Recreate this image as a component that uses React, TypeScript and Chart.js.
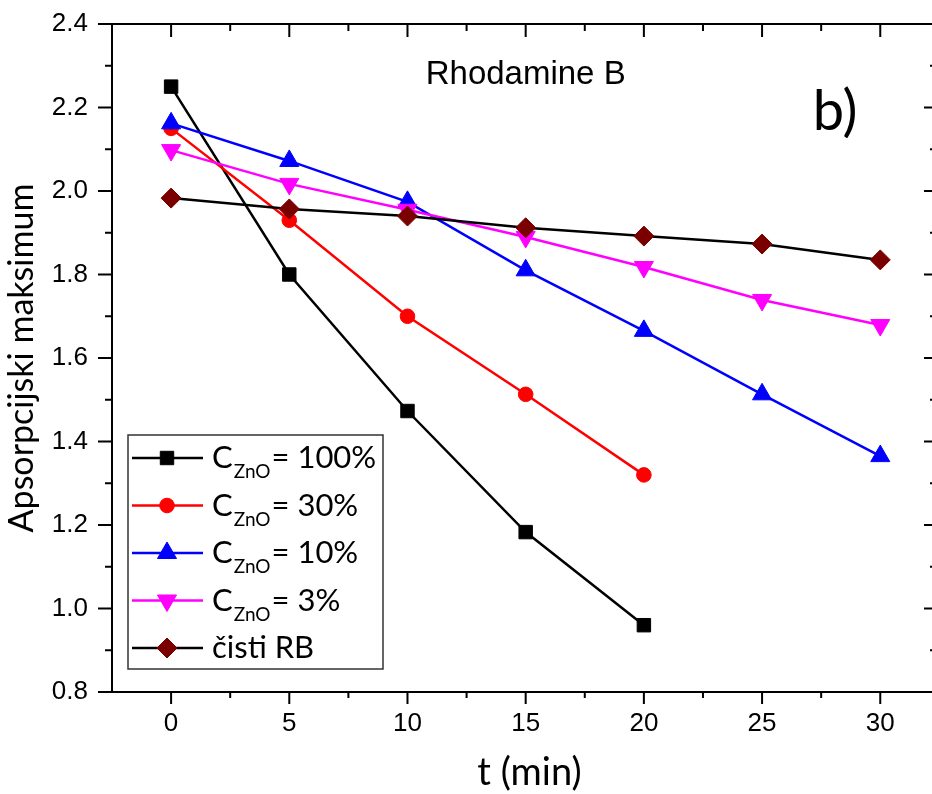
import React, { useEffect, useRef } from 'react';
import { Chart, registerables } from 'chart.js';
import { drawPoint } from 'chart.js/helpers';

Chart.register(...registerables);

// ---- data ----
const timeMin = [0, 5, 10, 15, 20, 25, 30];
const c100 = [2.25, 1.8, 1.473, 1.183, 0.96];
const c30 = [2.15, 1.93, 1.7, 1.513, 1.32];
const c10 = [2.162, 2.072, 1.974, 1.81, 1.665, 1.513, 1.365];
const c3 = [2.098, 2.017, 1.955, 1.89, 1.818, 1.739, 1.679];
const pureRB = [1.983, 1.957, 1.94, 1.912, 1.892, 1.873, 1.835];

const xTickValues = [0, 5, 10, 15, 20, 25, 30];
const yTickValues = [0.8, 1.0, 1.2, 1.4, 1.6, 1.8, 2.0, 2.2, 2.4];

const legendMain = ['C', 'C', 'C', 'C', 'čisti RB'];
const legendSub = ['ZnO', 'ZnO', 'ZnO', 'ZnO', ''];
const legendTail = ['= 100%', '= 30%', '= 10%', '= 3%', ''];

const titleText = 'Rhodamine B';
const panelText = 'b)';
const xTitle = 't (min)';
const yTitle = 'Apsorpcijski maksimum';

// annotation anchors in data units
const titleAt = { x: 15, y: 2.257 };
const panelAt = { x: 27.14, y: 2.1465 };

// ---- styles ----
const seriesValues = [c100, c30, c10, c3, pureRB];
const seriesStyle = [
  { line: '#000000', marker: '#000000', style: 'rect', radius: 9.5, rotation: 0 },
  { line: '#ff0000', marker: '#ff0000', style: 'circle', radius: 7.3, rotation: 0 },
  { line: '#0000ff', marker: '#0000ff', style: 'triangle', radius: 11, rotation: 0 },
  { line: '#ff00ff', marker: '#ff00ff', style: 'triangle', radius: 11, rotation: 180 },
  { line: '#000000', marker: '#7a0000', style: 'rectRot', radius: 10, rotation: 0 },
];

const CALIBRI = "Lato, 'Open Sans', sans-serif";
const ARIAL = "'Liberation Sans', Arial, sans-serif";

const decorPlugin = {
  id: 'decor',
  afterDatasetsDraw(chart: any) {
    const { ctx, chartArea: a, scales } = chart;
    const x = scales.x;
    const y = scales.y;
    ctx.save();
    ctx.strokeStyle = '#000';
    ctx.lineWidth = 2;
    ctx.lineCap = 'butt';
    ctx.strokeRect(a.left, a.top, a.right - a.left, a.bottom - a.top);
    ctx.beginPath();
    xTickValues.forEach((v, i) => {
      const p = x.getPixelForValue(v);
      ctx.moveTo(p, a.bottom);
      ctx.lineTo(p, a.bottom + 12);
      ctx.moveTo(p, a.top);
      ctx.lineTo(p, a.top + 13);
      if (i < xTickValues.length - 1) {
        const m = x.getPixelForValue((v + xTickValues[i + 1]) / 2);
        ctx.moveTo(m, a.bottom);
        ctx.lineTo(m, a.bottom + 6);
        ctx.moveTo(m, a.top);
        ctx.lineTo(m, a.top + 7);
      }
    });
    yTickValues.forEach((v, i) => {
      const p = y.getPixelForValue(v);
      ctx.moveTo(a.left - 14, p);
      ctx.lineTo(a.left, p);
      ctx.moveTo(a.right, p);
      ctx.lineTo(a.right - 13, p);
      if (i < yTickValues.length - 1) {
        const m = y.getPixelForValue((v + yTickValues[i + 1]) / 2);
        ctx.moveTo(a.left - 7, m);
        ctx.lineTo(a.left, m);
        ctx.moveTo(a.right, m);
        ctx.lineTo(a.right - 7, m);
      }
    });
    ctx.stroke();

    // annotations
    ctx.fillStyle = '#000';
    ctx.textBaseline = 'alphabetic';
    ctx.textAlign = 'center';
    ctx.font = `33px ${ARIAL}`;
    ctx.fillText(titleText, x.getPixelForValue(titleAt.x), y.getPixelForValue(titleAt.y));
    ctx.textAlign = 'left';
    ctx.font = `56px ${CALIBRI}`;
    ctx.fillText(panelText, x.getPixelForValue(panelAt.x), y.getPixelForValue(panelAt.y));

    // axis titles
    ctx.textAlign = 'center';
    ctx.font = `38px ${CALIBRI}`;
    ctx.fillText(xTitle, (a.left + a.right) / 2 + 5, a.bottom + 93);
    ctx.save();
    ctx.translate(33, (a.top + a.bottom) / 2);
    ctx.rotate(-Math.PI / 2);
    ctx.font = `34px ${CALIBRI}`;
    ctx.fillText(yTitle, 0, 0);
    ctx.restore();

    // legend
    const bx = a.left + 16;
    const by = a.bottom - 257;
    const bw = 255;
    const bh = 234;
    ctx.fillStyle = '#fff';
    ctx.fillRect(bx, by, bw, bh);
    ctx.strokeStyle = '#333';
    ctx.lineWidth = 1.5;
    ctx.strokeRect(bx, by, bw, bh);
    seriesStyle.forEach((s, i) => {
      const cy = by + 23 + i * 47.5;
      ctx.strokeStyle = s.line;
      ctx.lineWidth = 2.5;
      ctx.beginPath();
      ctx.moveTo(bx + 4, cy);
      ctx.lineTo(bx + 75, cy);
      ctx.stroke();
      ctx.fillStyle = s.marker;
      ctx.strokeStyle = s.marker;
      ctx.lineWidth = 1;
      drawPoint(ctx, { pointStyle: s.style, radius: s.radius, rotation: s.rotation, borderWidth: 1 }, bx + 39, cy);
      ctx.fillStyle = '#000';
      ctx.textAlign = 'left';
      ctx.textBaseline = 'alphabetic';
      let tx = bx + 84;
      ctx.font = `31px ${CALIBRI}`;
      ctx.fillText(legendMain[i], tx, cy + 10);
      tx += ctx.measureText(legendMain[i]).width;
      if (legendSub[i]) {
        ctx.font = `19px ${CALIBRI}`;
        ctx.fillText(legendSub[i], tx + 1, cy + 20);
        tx += ctx.measureText(legendSub[i]).width + 2;
        ctx.font = `31px ${CALIBRI}`;
        ctx.fillText(legendTail[i], tx, cy + 10);
      }
    });
    ctx.restore();
  },
};

export default function App() {
  const ref = useRef<HTMLCanvasElement | null>(null);
  useEffect(() => {
    document.body.style.margin = '0';
    document.body.style.overflow = 'hidden';
    const canvas = ref.current!;
    const datasets = seriesValues.map((vals, i) => {
      const s = seriesStyle[i];
      return {
        label: legendMain[i] + legendSub[i] + legendTail[i],
        data: vals.map((v, j) => ({ x: timeMin[j], y: v })),
        borderColor: s.line,
        borderWidth: 2.5,
        backgroundColor: s.marker,
        pointBackgroundColor: s.marker,
        pointBorderColor: s.marker,
        pointBorderWidth: 1,
        pointStyle: s.style,
        pointRadius: s.radius,
        pointRotation: s.rotation,
        pointHoverRadius: s.radius,
        tension: 0,
        fill: false,
        clip: false,
        order: seriesValues.length - i,
      };
    });
    const chart = new Chart(canvas, {
      type: 'line',
      data: { datasets },
      options: {
        animation: false,
        responsive: false,
        maintainAspectRatio: false,
        devicePixelRatio: 1,
        layout: { autoPadding: false, padding: { left: 0, top: 24, right: 3, bottom: 0 } },
        plugins: { legend: { display: false }, tooltip: { enabled: false }, title: { display: false } },
        events: [],
        scales: {
          x: {
            type: 'linear',
            min: -2.5,
            max: 32.4,
            afterFit: (s: any) => { s.height = 102; s.paddingLeft = 0; s.paddingRight = 0; s.paddingTop = 0; s.paddingBottom = 0; },
            afterBuildTicks: (s: any) => { s.ticks = xTickValues.map((v) => ({ value: v })); },
            grid: { display: false, drawTicks: false },
            border: { display: false },
            ticks: { color: '#000', font: { family: ARIAL, size: 26 }, padding: 16, maxRotation: 0, autoSkip: false, callback: (v: any) => String(v) },
          },
          y: {
            type: 'linear',
            min: 0.8,
            max: 2.4,
            afterFit: (s: any) => { s.width = 112; s.paddingLeft = 0; s.paddingRight = 0; s.paddingTop = 0; s.paddingBottom = 0; },
            afterBuildTicks: (s: any) => { s.ticks = yTickValues.map((v) => ({ value: v })); },
            grid: { display: false, drawTicks: false },
            border: { display: false },
            ticks: { color: '#000', font: { family: ARIAL, size: 26 }, padding: 24, autoSkip: false, callback: (v: any) => Number(v).toFixed(1) },
          },
        },
      },
      plugins: [decorPlugin],
    });
    return () => chart.destroy();
  }, []);
  return (
    <div style={{ width: 932, height: 794, overflow: 'hidden', position: 'relative', background: '#fff' }}>
      <div style={{ width: 940, height: 794, position: 'absolute', left: 0, top: 0 }}>
        <canvas ref={ref} width={940} height={794} style={{ display: 'block', width: 940, height: 794 }} />
      </div>
    </div>
  );
}
